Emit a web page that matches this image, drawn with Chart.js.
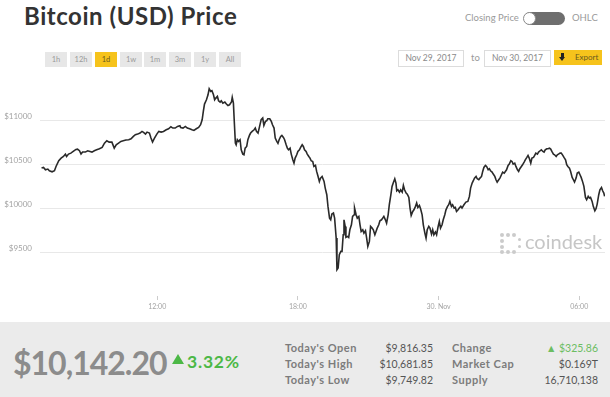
<!DOCTYPE html>
<html>
<head>
<meta charset="utf-8">
<script src="https://cdn.jsdelivr.net/npm/chart.js@4/dist/chart.umd.min.js"></script>
<style>
  html,body{margin:0;padding:0;}
  body{width:610px;height:397px;overflow:hidden;background:#fff;position:relative;font-family:Lato,"Open Sans",sans-serif;}
  .abs{position:absolute;white-space:nowrap;}
  #title{left:24px;top:4px;font-size:24px;line-height:24px;font-weight:700;color:#333;letter-spacing:0.55px;}
  .rbtn{position:absolute;top:52px;width:22px;height:15px;line-height:15px;background:#e7e7e7;color:#9a9a9a;font-size:7.5px;text-align:center;}
  .rbtn.on{background:#f6c31c;color:#6a5a20;}
  .small{font-size:9.5px;color:#9a9a9a;line-height:12px;}
  .datebox{position:absolute;top:50px;height:15px;border:1px solid #dcdcdc;background:#fff;color:#8a8a8a;font-size:8.5px;line-height:15px;text-align:center;}
  #panel{left:0;top:322px;width:610px;height:75px;background:#ebebeb;}
  .lab{font-size:11px;font-weight:700;color:#7c7c7c;line-height:16px;letter-spacing:0.5px;}
  .val{font-size:10.5px;color:#555;line-height:16px;text-align:right;}
  .dot{position:absolute;width:4px;height:4px;border-radius:2px;background:#cbcbcb;}
</style>
</head>
<body>
<div class="abs" id="title">Bitcoin (USD) Price</div>

<div class="rbtn" style="left:45px">1h</div>
<div class="rbtn" style="left:70px">12h</div>
<div class="rbtn on" style="left:95px">1d</div>
<div class="rbtn" style="left:120px">1w</div>
<div class="rbtn" style="left:144px">1m</div>
<div class="rbtn" style="left:169px">3m</div>
<div class="rbtn" style="left:194px">1y</div>
<div class="rbtn" style="left:219px">All</div>

<div class="abs small" style="left:465px;top:12px;">Closing Price</div>
<div class="abs" style="left:524px;top:12px;width:41px;height:13px;border-radius:7px;background:#6e6e6e;"></div>
<div class="abs" style="left:523px;top:12px;width:13px;height:13px;border-radius:7px;background:#fff;border:1px solid #8a8a8a;box-sizing:border-box;"></div>
<div class="abs small" style="left:572px;top:12px;">OHLC</div>

<div class="datebox" style="left:398px;width:64px;">Nov 29, 2017</div>
<div class="abs small" style="left:471px;top:52px;">to</div>
<div class="datebox" style="left:484px;width:65px;">Nov 30, 2017</div>
<div class="abs" style="left:554px;top:50px;width:48px;height:15px;background:#f6c31c;"></div>
<div class="abs" style="left:561px;top:53px;width:3px;height:4px;background:#222;"></div>
<div class="abs" style="left:559px;top:57px;width:0;height:0;border-left:3.5px solid transparent;border-right:3.5px solid transparent;border-top:4px solid #222;"></div>
<div class="abs" style="left:575px;top:50px;font-size:8px;line-height:15px;color:#6a5a20;">Export</div>

<canvas id="c" width="610" height="250" style="position:absolute;left:0;top:70px;"></canvas>

<div class="dot" style="left:500px;top:233px"></div>
<div class="dot" style="left:506px;top:233px"></div>
<div class="dot" style="left:512px;top:233px"></div>
<div class="dot" style="left:500px;top:239px"></div>
<div class="dot" style="left:500px;top:245px"></div>
<div class="dot" style="left:500px;top:250px"></div>
<div class="dot" style="left:506px;top:250px"></div>
<div class="dot" style="left:512px;top:250px"></div>
<div class="dot" style="left:518px;top:238px;width:3px;height:3px"></div>
<div class="dot" style="left:518px;top:245px;width:3px;height:3px"></div>
<div class="abs" style="left:525px;top:231px;font-size:20px;line-height:20px;color:#c6c6c6;">coindesk</div>

<div class="abs" id="panel"></div>
<div class="abs" style="left:13px;top:344px;font-size:32px;line-height:38px;font-weight:700;color:#8c8c8c;letter-spacing:-1px;">$10,142.20</div>
<div class="abs" style="left:172px;top:354px;width:0;height:0;border-left:6px solid transparent;border-right:6px solid transparent;border-bottom:10px solid #4cb846;"></div>
<div class="abs" style="left:187px;top:352px;font-size:17.5px;line-height:20px;font-weight:700;color:#4cb846;letter-spacing:0.8px;">3.32%</div>

<div class="abs lab" style="left:285px;top:340px;">Today's Open</div>
<div class="abs lab" style="left:285px;top:356px;">Today's High</div>
<div class="abs lab" style="left:285px;top:372px;">Today's Low</div>
<div class="abs val" style="left:353px;width:80px;top:340px;">$9,816.35</div>
<div class="abs val" style="left:353px;width:80px;top:356px;">$10,681.85</div>
<div class="abs val" style="left:353px;width:80px;top:372px;">$9,749.82</div>
<div class="abs lab" style="left:452px;top:340px;">Change</div>
<div class="abs lab" style="left:452px;top:356px;">Market Cap</div>
<div class="abs lab" style="left:452px;top:372px;">Supply</div>
<div class="abs val" style="left:518px;width:80px;top:340px;color:#6cbd62;">▲ $325.86</div>
<div class="abs val" style="left:518px;width:80px;top:356px;">$0.169T</div>
<div class="abs val" style="left:518px;width:80px;top:372px;">16,710,138</div>

<script>
// minutes since 29 Nov 2017 07:00
const minutesSinceStart = [
  4,9,14,20,24,31,37,41,48,54,60,65,68,73,79,85,92,96,101,105,109,116,122,128,133,139,145,152,159,165,171,177,184,190,195,201,207,213,220,227,233,239,244,250,256,261,265,270,274,280,284,288,293,299,304,310,316,323,329,335,340,346,352,358,
  360,366,372,377,383,389,394,400,406,411,415,418,421,426,430,433,437,440,444,447,450,454,457,461,464,468,473,477,481,485,490,492,495,497,500,502,505,508,512,515,519,522,525,529,532,536,539,543,548,551,554,558,562,566,570,573,577,580,583,588,592,595,599,602,606,609,612,616,619,623,626,630,633,636,640,643,647,650,653,657,660,664,667,671,674,677,681,684,688,691,694,698,701,705,708,711,715,718,722,
  727,730,734,737,741,744,747,751,754,758,760,763,766,770,773,776,778,781,783,787,790,793,797,800,804,805,809,812,816,819,822,826,829,833,836,839,843,846,850,853,857,860,863,867,870,874,877,880,884,887,891,894,898,901,904,908,911,913,916,920,923,927,930,933,937,940,944,947,950,954,957,961,964,967,971,974,978,981,985,988,991,995,998,1002,1005,1008,1012,1015,1019,1022,1025,1029,1032,1036,1039,1043,1046,1049,1053,1056,1060,1063,1066,1070,1073,1077,1080,
  1085,1090,1095,1099,1102,1106,1109,1112,1116,1119,1123,1126,1130,1133,1136,1140,1143,1147,1150,1153,1157,1160,1164,1167,1170,1174,1177,1181,1184,1188,1191,1194,1198,1201,1205,1208,1211,1215,1218,1222,1225,1228,1232,1235,1239,1242,1246,1249,1252,1256,1259,1263,1266,1269,1273,1276,1280,1283,1287,1290,1293,1297,1300,1304,1307,1310,1314,1317,1321,1324,1327,1331,1334,1338,1341,1345,1348,1351,1355,1358,1362,1365,1368,1372,1375,1379,1382,1385,1389,1392,1396,1399,1403,1406,1409,1413,1416,1420,1423,1426,1430,1433,1437,1440,1443,1445
];
// closing price, USD
const prices = [
  10460,10468,10441,10449,10430,10418,10430,10479,10544,10574,10593,10620,10593,10620,10631,10650,10673,10677,10658,10620,10643,10643,10658,10650,10643,10658,10669,10681,10696,10745,10772,10757,10757,10688,10726,10745,10765,10772,10780,10784,10795,10822,10841,10848,10860,10879,10867,10848,10871,10860,10803,10757,10803,10848,10879,10871,10879,10898,10909,10932,10917,10917,10936,10943,
  10924,10917,10936,10917,10909,10898,10890,10909,10924,10955,11012,11107,11191,11240,11297,11366,11335,11343,11297,11240,11259,11278,11229,11214,11229,11202,11214,11191,11175,11183,11214,11267,11202,11012,10746,10727,10784,10765,10784,10669,10620,10612,10688,10707,10784,10833,10860,10879,10898,10917,10879,10860,10936,11012,11031,10947,10993,11000,11023,11023,10993,10955,10917,10803,10765,10742,10784,10822,10833,10810,10784,10726,10688,10669,10688,10620,10555,10517,10574,10612,10650,10669,10696,10726,10707,10669,10650,10620,10593,10574,10544,10536,10479,10491,10422,10376,10308,10346,10365,
  10308,10232,10156,10023,9889,9870,9935,9946,9889,9661,9300,9319,9471,9509,9509,9699,9870,9794,9669,9680,9669,9756,9813,9908,9927,10004,9927,9889,9908,9813,9737,9756,9718,9745,9661,9566,9623,9794,9775,9756,9699,9737,9775,9813,9859,9870,9889,9908,9870,9832,9927,10042,10156,10251,10289,10338,10289,10201,10213,10186,10213,10186,10262,10213,10175,10163,10125,10004,9920,9965,9984,10023,10061,10011,10034,9996,9927,9813,9718,9661,9756,9794,9775,9707,9756,9699,9730,9699,9794,9851,9775,9813,9870,9927,9984,10023,10042,10080,10023,10042,10004,10011,9965,9984,10004,10023,10004,
  10042,10072,10080,10137,10232,10289,10316,10346,10365,10338,10327,10346,10365,10422,10468,10491,10479,10441,10453,10430,10414,10392,10365,10327,10300,10327,10346,10384,10414,10403,10422,10441,10491,10506,10544,10536,10506,10517,10479,10441,10422,10453,10479,10498,10529,10555,10582,10605,10574,10517,10574,10582,10605,10631,10620,10643,10658,10669,10650,10643,10669,10681,10681,10688,10677,10650,10620,10612,10593,10612,10620,10631,10631,10605,10582,10555,10498,10479,10460,10422,10354,10327,10300,10346,10403,10414,10384,10354,10300,10251,10125,10099,10137,10118,10125,10080,10023,9973,9996,10049,10156,10213,10239,10201,10175,10137
];
const xTickMinutes = [300, 660, 1020, 1380];
const xTickLabels = ['12:00', '18:00', '30. Nov', '06:00'];
const yTickValues = [9500, 10000, 10500, 11000];

const points = minutesSinceStart.map((m, i) => ({ x: m, y: prices[i] }));

new Chart(document.getElementById('c').getContext('2d'), {
  type: 'line',
  data: {
    datasets: [{
      data: points,
      borderColor: '#2a2a2a',
      borderWidth: 1.6,
      pointRadius: 0,
      tension: 0,
      fill: false
    }]
  },
  options: {
    responsive: false,
    animation: false,
    plugins: { legend: { display: false }, tooltip: { enabled: false } },
    layout: { padding: { top: 7, right: 5, left: 0, bottom: 0 } },
    scales: {
      x: {
        type: 'linear',
        min: 0,
        max: 1446,
        afterBuildTicks: s => { s.ticks = xTickMinutes.map(v => ({ value: v })); },
        afterFit: s => { s.height = 24; s.paddingLeft = 0; s.paddingRight = 0; s.paddingTop = 0; s.paddingBottom = 0; },
        ticks: {
          autoSkip: false,
          maxRotation: 0,
          padding: 3,
          color: '#a3a3a3',
          font: { family: 'Lato', size: 7 },
          callback: v => xTickLabels[xTickMinutes.indexOf(v)]
        },
        grid: { drawOnChartArea: false, tickLength: 4, color: '#cccccc' },
        border: { display: false }
      },
      y: {
        min: 9000,
        max: 11500,
        afterBuildTicks: s => { s.ticks = yTickValues.map(v => ({ value: v })); },
        afterFit: s => { s.width = 40; s.paddingTop = 0; s.paddingBottom = 0; s.paddingLeft = 0; s.paddingRight = 0; },
        ticks: {
          padding: 8,
          labelOffset: -4,
          color: '#a3a3a3',
          font: { family: 'Lato', size: 8 },
          callback: v => '$' + v
        },
        grid: { color: '#e8e8e8', drawTicks: false },
        border: { display: false }
      }
    }
  }
});
</script>
</body>
</html>
